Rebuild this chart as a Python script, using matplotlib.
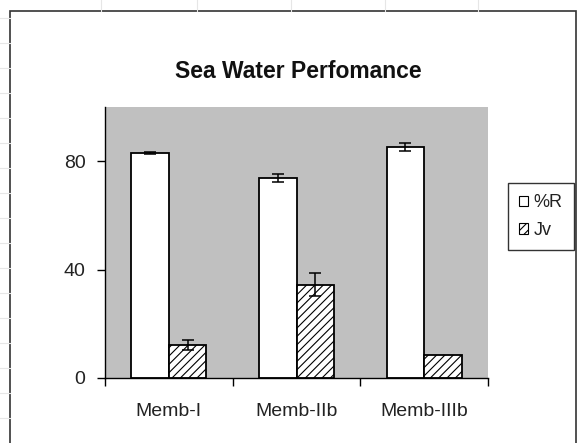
import matplotlib
matplotlib.use("Agg")
import matplotlib.pyplot as plt
import numpy as np
from matplotlib.patches import Rectangle, Patch
from matplotlib.lines import Line2D

plt.rcParams['font.family'] = ['Liberation Sans', 'DejaVu Sans']
plt.rcParams['hatch.color'] = '#6a6a6a'
plt.rcParams['hatch.linewidth'] = 0.8

categories = ["Memb-I", "Memb-IIb", "Memb-IIIb"]
R_values = [83.0, 73.8, 85.2]
R_errors = [0.3, 1.3, 1.4]
Jv_values = [12.2, 34.5, 8.4]
Jv_errors = [2.0, 4.3, 0.0]
y_ticks = [0, 40, 80]

W, H = 577, 443
fig = plt.figure(figsize=(W / 100, H / 100), dpi=100)
fig.patch.set_facecolor('white')

# faint spreadsheet grid in the margins
for xg in [101, 197, 291, 385, 478]:
    fig.add_artist(Line2D([xg / W, xg / W], [1, 1 - 11 / H], color='#e6e6e6', lw=0.8))
for yg in [18, 43, 68, 93, 118, 143, 168, 193, 218, 243, 268, 293, 318, 343, 368, 393, 418]:
    fig.add_artist(Line2D([0, 10 / W], [1 - yg / H, 1 - yg / H], color='#e6e6e6', lw=0.8))

# chart frame
fig.add_artist(Rectangle((10 / W, -0.05), (576 - 10) / W, (1 - 11 / H) + 0.05,
                         transform=fig.transFigure, fill=False, edgecolor='#333333', lw=1.2))

ax = fig.add_axes([105 / W, 1 - 378 / H, (488 - 105) / W, (378 - 107) / H])
ax.set_facecolor('#c0c0c0')

x = np.arange(len(categories))
bw = 0.293
ax.bar(x - bw / 2, R_values, width=bw, color='white', edgecolor='black', linewidth=1.3, zorder=2)
ax.bar(x + bw / 2, Jv_values, width=bw, color='white', edgecolor='black', linewidth=1.3,
       hatch='////', zorder=2)

ax.errorbar(x - bw / 2, R_values, yerr=R_errors, fmt='none', ecolor='black',
            elinewidth=1.1, capsize=4, capthick=1.1, zorder=3)
jv_mask = np.array(Jv_errors) > 0
ax.errorbar((x + bw / 2)[jv_mask], np.array(Jv_values)[jv_mask], yerr=np.array(Jv_errors)[jv_mask],
            fmt='none', ecolor='black', elinewidth=1.1, capsize=4, capthick=1.1, zorder=3)

ax.set_xlim(-0.5, 2.5)
ax.set_ylim(0, 100)
ax.set_yticks(y_ticks)
ax.set_yticklabels([str(v) for v in y_ticks], fontsize=14, color='#222222')
ax.set_xticks([-0.5, 0.5, 1.5, 2.5])
ax.set_xticklabels([])
ax.set_xticks(x, minor=True)
ax.set_xticklabels(categories, minor=True, fontsize=14, color='#222222')
ax.tick_params(axis='x', which='minor', length=0, pad=18)
ax.tick_params(axis='x', which='major', length=6, width=1.0, direction='out')
ax.tick_params(axis='y', length=6, width=1.0, direction='out', pad=8)

for s in ['top', 'right']:
    ax.spines[s].set_visible(False)
for s in ['left', 'bottom']:
    ax.spines[s].set_linewidth(1.0)
    ax.spines[s].set_color('black')

fig.text(298 / W, 1 - 71 / H, "Sea Water Perfomance", ha='center', va='center',
         fontsize=16.5, fontweight='bold', color='#111111')

handles = [Patch(facecolor='white', edgecolor='black', lw=0.8),
           Patch(facecolor='white', edgecolor='black', lw=0.8, hatch='////')]
leg = fig.legend(handles, ["%R", "Jv"], loc='upper left',
                 bbox_to_anchor=(508 / W, 1 - 183 / H), fontsize=13,
                 frameon=True, fancybox=False, handlelength=0.5, handleheight=0.5,
                 handletextpad=0.3, borderpad=0.62, labelspacing=0.6, borderaxespad=0)
leg.get_frame().set_edgecolor('black')
leg.get_frame().set_linewidth(1.0)
for t in leg.get_texts():
    t.set_color('#222222')

fig.savefig("out.png", dpi=100)
